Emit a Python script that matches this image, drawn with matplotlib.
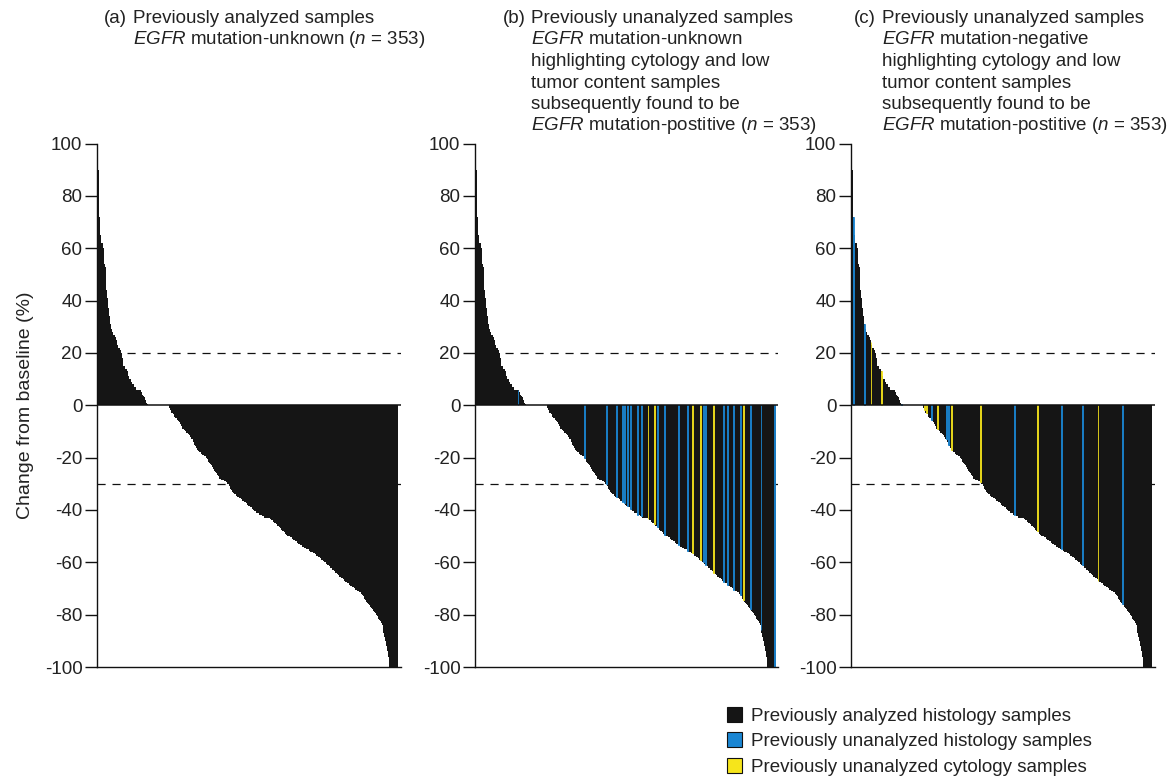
import matplotlib
matplotlib.use('Agg')
import matplotlib.pyplot as plt
from matplotlib.patches import Patch
import numpy as np

plt.rcParams['font.family'] = ['Liberation Sans', 'DejaVu Sans']
plt.rcParams['mathtext.fontset'] = 'custom'
plt.rcParams['mathtext.rm'] = 'Liberation Sans'
plt.rcParams['mathtext.it'] = 'Liberation Sans:italic'
plt.rcParams['axes.unicode_minus'] = False

# ---------------- data ----------------
pos_part = [90, 72, 71, 65, 62, 62, 60, 54, 53, 52, 44, 41, 37, 34, 31, 31, 29, 28, 27, 27,
            26, 25, 24, 23, 22, 22, 21, 20, 18, 15, 15, 15, 14, 14, 13, 12, 11, 10, 10, 9,
            8, 8, 7, 7, 7, 6, 6, 6, 6, 6, 6, 5, 4, 3.5, 3, 2, 2, 1, 0.5]
zero_part = [0, 0, 0, 0, 0, 0, 0, 0, 0, 0, 0, 0, 0, 0, 0, 0, 0, 0, 0, 0, 0, 0, 0, 0, 0]
neg_part = [-1, -2, -3, -3, -3.5, -4, -4.5, -5, -5, -5.5, -6, -6, -6.5, -7, -8, -9, -9, -9.5,
            -10, -10, -10.5, -10.5, -11, -11.5, -12, -12.5, -13, -13, -14, -15, -15.5, -16,
            -16.5, -17, -17.5, -18, -18, -18.5, -18.5, -19, -19, -19.5, -19.5, -20, -20.5,
            -21, -21.5, -22, -22.5, -23, -23.5, -24, -24.5, -25, -25.5, -26, -26.5, -27,
            -27.5, -28, -28, -28.5, -28.5, -28.5, -29, -29, -29, -29.5, -30, -30, -31, -31.5,
            -32, -32.5, -33, -33.5, -34, -34, -34.5, -34.5, -35, -35, -35.5, -35.5, -36, -36,
            -36.5, -36.5, -37, -37, -37.5, -38, -38, -38.5, -38.5, -39, -39, -39.5, -40, -40,
            -40.5, -40.5, -41, -41, -41, -41.5, -42, -42, -42, -42.5, -42.5, -42.5, -43, -43,
            -43, -43, -43, -43, -43.5, -43.5, -44, -44, -44.5, -45, -45, -45.5, -45.5, -46,
            -46, -46.5, -47, -47, -47.5, -48, -48, -48.5, -49, -49.5, -49.5, -50, -50, -50,
            -50.5, -50.5, -51, -51, -51.5, -51.5, -52, -52, -52.5, -52.5, -53, -53, -53.5,
            -53.5, -54, -54, -54, -54.5, -54.5, -55, -55, -55, -55.5, -55.5, -56, -56, -56,
            -56.5, -56.5, -57, -57, -57.5, -57.5, -58, -58, -58.5, -58.5, -59, -59, -59.5,
            -60, -60, -60.5, -60.5, -61, -61, -61.5, -62, -62, -62.5, -63, -63, -63.5, -64,
            -64, -64.5, -65, -65, -65.5, -65.5, -66, -66, -66.5, -67, -67, -67.5, -67.5, -68,
            -68, -68.5, -68.5, -69, -69, -69.5, -69.5, -70, -70, -70.5, -70.5, -71, -71,
            -71.5, -71.5, -72, -72, -72.5, -73, -74, -74.5, -75, -75, -75.5, -76, -76.5, -77,
            -77.5, -78, -78, -78.5, -79, -79.5, -80, -80.5, -81, -81.5, -82, -82.5, -83, -84,
            -86, -87, -88.5, -90, -92, -94, -96, -98,
            -100, -100, -100, -100, -100, -100, -100, -100, -100, -100]
change = pos_part + zero_part + neg_part   # 353 samples, sorted (waterfall)

# sample indices of previously unanalyzed samples, per panel
b_histology = [49, 127, 153, 165, 172, 174, 178, 181, 190, 194, 213, 221, 238, 248, 267,
               270, 291, 296, 303, 311, 323, 335, 351]
b_cytology = [202, 210, 254, 264, 279, 314]
c_histology = [1, 14, 58, 93, 111, 113, 191, 246, 271, 318]
c_cytology = [22, 34, 85, 87, 100, 117, 151, 218, 289]

ytick_values = [-100, -80, -60, -40, -20, 0, 20, 40, 60, 80, 100]
ytick_labels = ['-100', '-80', '-60', '-40', '-20', '0', '20', '40', '60', '80', '100']
ref_lines = [20, -30]

titles = [
    ("(a)", ["Previously analyzed samples",
             r"$\mathit{EGFR}$ mutation-unknown ($\mathit{n}$ = 353)"]),
    ("(b)", ["Previously unanalyzed samples",
             r"$\mathit{EGFR}$ mutation-unknown",
             "highlighting cytology and low",
             "tumor content samples",
             "subsequently found to be",
             r"$\mathit{EGFR}$ mutation-postitive ($\mathit{n}$ = 353)"]),
    ("(c)", ["Previously unanalyzed samples",
             r"$\mathit{EGFR}$ mutation-negative",
             "highlighting cytology and low",
             "tumor content samples",
             "subsequently found to be",
             r"$\mathit{EGFR}$ mutation-postitive ($\mathit{n}$ = 353)"]),
]
legend_labels = ["Previously analyzed histology samples",
                 "Previously unanalyzed histology samples",
                 "Previously unanalyzed cytology samples"]

# ---------------- style ----------------
BLACK = '#151515'
BLUE = '#1a86d3'
YELLOW = '#f6e51b'
TXT = '#222222'
FS = 13.5

W, H = 1168, 782
fig = plt.figure(figsize=(W / 100, H / 100), dpi=100)

ax_left_px = [97.0, 475.0, 851.0]
ax_w_px = 303.5
ax_top_px, ax_bot_px = 143.5, 667.0

highlights = [([], []), (b_histology, b_cytology), (c_histology, c_cytology)]
x = np.arange(len(change))
vals = np.array(change, dtype=float)

axes = []
for k in range(3):
    ax = fig.add_axes([ax_left_px[k] / W, 1 - ax_bot_px / H, ax_w_px / W,
                       (ax_bot_px - ax_top_px) / H])
    axes.append(ax)
    for r in ref_lines:
        ax.axhline(r, color='#111111', lw=0.9, ls=(0, (6.5, 5.5)), zorder=1)
    ax.bar(x, vals, width=1.0, color=BLACK, linewidth=0, antialiased=False, zorder=2)
    hist_idx, cyto_idx = highlights[k]
    if hist_idx:
        ax.bar(x[hist_idx], vals[hist_idx], width=1.0, color=BLUE, edgecolor=BLUE,
               linewidth=0.6, zorder=3)
    if cyto_idx:
        ax.bar(x[cyto_idx], vals[cyto_idx], width=1.0, color=YELLOW, edgecolor=YELLOW,
               linewidth=0.6, zorder=3)
    ax.axhline(0, color='#111111', lw=1.1, zorder=4)
    ax.set_xlim(-1.5, 355.5)
    ax.set_ylim(-100, 100)
    ax.set_yticks(ytick_values)
    ax.set_yticklabels(ytick_labels, fontsize=FS, color=TXT)
    ax.set_xticks([])
    for s in ['top', 'right']:
        ax.spines[s].set_visible(False)
    for s in ['left', 'bottom']:
        ax.spines[s].set_linewidth(1.0)
        ax.spines[s].set_color('#111111')
        ax.spines[s].set_zorder(5)
    ax.tick_params(axis='y', length=9, width=1.0, pad=1.5, color='#111111')

axes[0].set_ylabel("Change from baseline (%)", fontsize=14, color=TXT, labelpad=8)

# titles
prefix_x = [104, 503, 854]
line_x = [132.7, 531.0, 881.7]
base0 = 23.0
step = 21.5
for k, (pre, lines) in enumerate(titles):
    fig.text(prefix_x[k] / W, 1 - base0 / H, pre, fontsize=FS, color=TXT,
             ha='left', va='baseline')
    for j, ln in enumerate(lines):
        fig.text(line_x[k] / W, 1 - (base0 + j * step) / H, ln, fontsize=FS,
                 color=TXT, ha='left', va='baseline')

handles = [Patch(facecolor=BLACK, edgecolor='#111111', linewidth=0.8),
           Patch(facecolor=BLUE, edgecolor='#111111', linewidth=0.8),
           Patch(facecolor=YELLOW, edgecolor='#111111', linewidth=0.8)]
fig.legend(handles, legend_labels, loc='upper left', bbox_to_anchor=(727 / W, 1 - 707 / H),
           frameon=False, borderpad=0, borderaxespad=0, handlelength=0.8,
           handleheight=0.85, handletextpad=0.5, labelspacing=0.4, fontsize=FS,
           labelcolor=TXT)

fig.savefig('out.png', dpi=100)
